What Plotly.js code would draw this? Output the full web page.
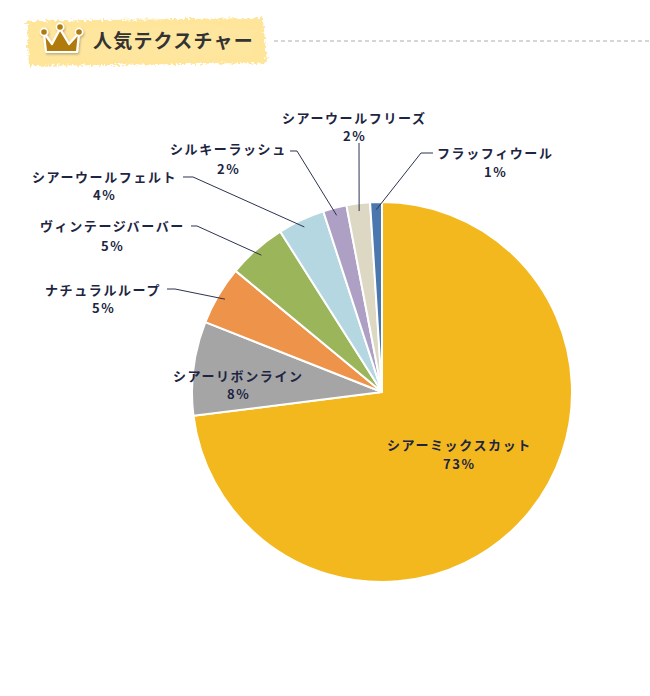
<!DOCTYPE html>
<html>
<head>
<meta charset="utf-8">
<script src="https://cdn.plot.ly/plotly-3.0.1.min.js"></script>
<style>
  html, body { margin: 0; padding: 0; background: #fff; }
  #wrap { position: relative; width: 650px; height: 696px; }
  #chart { position: absolute; left: 0; top: 0; width: 650px; height: 696px; }
  #head { position: absolute; left: 0; top: 0; width: 650px; height: 80px; pointer-events: none; }
  .annotation-text { letter-spacing: 1.6px; }
</style>
</head>
<body>
<div id="wrap">
  <div id="chart"></div>
  <svg id="head" width="650" height="80" viewBox="0 0 650 80">
    <defs>
      <filter id="rough" x="-10%" y="-30%" width="120%" height="160%">
        <feTurbulence type="fractalNoise" baseFrequency="0.35" numOctaves="2" seed="3" result="n"/>
        <feDisplacementMap in="SourceGraphic" in2="n" scale="8" xChannelSelector="R" yChannelSelector="G"/>
      </filter>
      <filter id="sh" x="-20%" y="-20%" width="150%" height="150%">
        <feDropShadow dx="1" dy="1.5" stdDeviation="0.8" flood-color="#000" flood-opacity="0.25"/>
      </filter>
    </defs>
    <path d="M27,21 L263,18 L267,63 L29,66 Z" fill="#FFE599" filter="url(#rough)"/>
    <path d="M40,30 L60,26 L90,30 L200,24 L255,30 L250,56 L120,60 L45,58 Z" fill="#FFE8A6" opacity="0.5" filter="url(#rough)"/>
    <g filter="url(#sh)">
      <path d="M44,33 L52,44 L60,29 L69,44 L79,33 L77,52 L46,52 Z" fill="#B07A0C" stroke="#fff" stroke-width="2.2" stroke-linejoin="round"/>
      <circle cx="44" cy="32" r="3.6" fill="#B07A0C" stroke="#fff" stroke-width="1.6"/>
      <circle cx="60" cy="27" r="3.6" fill="#B07A0C" stroke="#fff" stroke-width="1.6"/>
      <circle cx="79" cy="32" r="3.6" fill="#B07A0C" stroke="#fff" stroke-width="1.6"/>
    </g>
    <text x="93" y="48" font-family="'Noto Sans CJK JP', 'Noto Sans', sans-serif" font-weight="700" font-size="19" letter-spacing="1.2" fill="#333333">人気テクスチャー</text>
    <line x1="274" y1="41" x2="650" y2="41" stroke="#c9c9c9" stroke-width="1.6" stroke-dasharray="4,3"/>
  </svg>
</div>
<script>
// ---- data ----
const categories = ['シアーミックスカット', 'シアーリボンライン', 'ナチュラルループ', 'ヴィンテージバーバー', 'シアーウールフェルト', 'シルキーラッシュ', 'シアーウールフリーズ', 'フラッフィウール'];
const shares = [73, 8, 5, 5, 4, 2, 2, 1];
const sliceColors = ['#F3B81D', '#A5A5A5', '#EE934A', '#9AB55A', '#B4D7E1', '#AE9FC4', '#DCD8C3', '#4A78AE'];

// ---- layout config (pixels) ----
const W = 650, H = 696;
const cx = 382, cy = 392, R = 190;
const px = x => x / W;
const py = y => 1 - y / H;
const labelPos = [
  { x: 459, y1: 444, y2: 463 },
  { x: 238, y1: 375, y2: 393 },
  { x: 103, y1: 289, y2: 307, lead: [[167, 289], [175, 289]] },
  { x: 112, y1: 226, y2: 245, lead: [[191, 226], [197, 226]] },
  { x: 104, y1: 176, y2: 194, lead: [[183, 177], [193, 177]] },
  { x: 228, y1: 149, y2: 168, lead: [[290, 151], [297, 151]] },
  { x: 355, y1: 117, y2: 135, lead: [[359, 143]] },
  { x: 495, y1: 152, y2: 171, lead: [[433, 153], [421, 153]] }
];
const textColor = '#1D2542';
const labelFont = { family: "'Noto Sans CJK JP', 'Noto Sans', sans-serif", size: 13, color: textColor, weight: 700 };

const total = shares.reduce((a, b) => a + b, 0);
const annotations = [];
const shapes = [];
let cum = 0;
shares.forEach((v, i) => {
  const mid = (cum + v / 2) / total * 2 * Math.PI;
  cum += v;
  const lp = labelPos[i];
  annotations.push({
    xref: 'paper', yref: 'paper', x: px(lp.x), y: py(lp.y1),
    xanchor: 'center', yanchor: 'middle', showarrow: false,
    text: categories[i], font: labelFont
  });
  annotations.push({
    xref: 'paper', yref: 'paper', x: px(lp.x), y: py(lp.y2),
    xanchor: 'center', yanchor: 'middle', showarrow: false,
    text: v + '%', font: labelFont
  });
  if (lp.lead) {
    const tx = cx + R * 0.96 * Math.sin(mid);
    const ty = cy - R * 0.96 * Math.cos(mid);
    const pts = lp.lead.concat([[tx, ty]]);
    const d = pts.map((p, k) => (k ? 'L' : 'M') + px(p[0]).toFixed(5) + ',' + py(p[1]).toFixed(5)).join(' ');
    shapes.push({ type: 'path', xref: 'paper', yref: 'paper', path: d, line: { color: '#2b3350', width: 1 } });
  }
});

const trace = {
  type: 'pie',
  labels: categories,
  values: shares,
  sort: false,
  direction: 'clockwise',
  rotation: 0,
  textinfo: 'none',
  hoverinfo: 'skip',
  marker: { colors: sliceColors, line: { color: '#ffffff', width: 2 } },
  domain: { x: [px(cx - R), px(cx + R)], y: [py(cy + R), py(cy - R)] },
  showlegend: false
};

Plotly.newPlot('chart', [trace], {
  width: W, height: H,
  margin: { l: 0, r: 0, t: 0, b: 0 },
  paper_bgcolor: '#ffffff',
  showlegend: false,
  annotations: annotations,
  shapes: shapes
}, { staticPlot: true, displayModeBar: false });
</script>
</body>
</html>
